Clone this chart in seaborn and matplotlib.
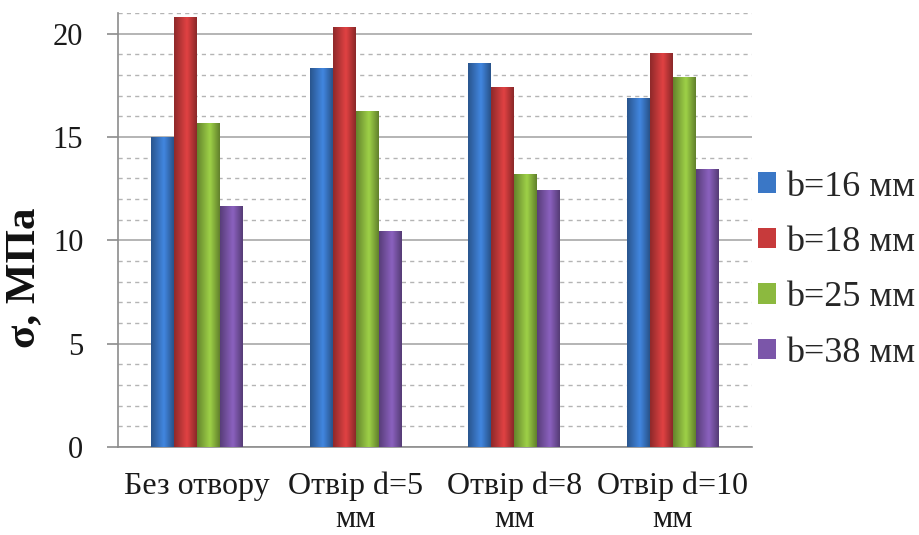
import numpy as np
import pandas as pd
import matplotlib
matplotlib.use("Agg")
import matplotlib.pyplot as plt
import matplotlib.colors as mcolors
from matplotlib.ticker import MultipleLocator
import seaborn as sns

categories = ["Без отвору", "Отвір d=5\nмм", "Отвір d=8\nмм", "Отвір d=10\nмм"]
series_names = ["b=16 мм", "b=18 мм", "b=25 мм", "b=38 мм"]
b16 = [15.0, 18.35, 18.6, 16.9]
b18 = [20.8, 20.3, 17.4, 19.05]
b25 = [15.7, 16.25, 13.2, 17.9]
b38 = [11.65, 10.45, 12.45, 13.45]
colors = ["#3A77C6", "#C73A3B", "#8CB93F", "#7B56A9"]

rows = []
for name, vals in zip(series_names, [b16, b18, b25, b38]):
    for cat, v in zip(categories, vals):
        rows.append({"cat": cat, "series": name, "value": v})
df = pd.DataFrame(rows)

sns.set_theme(style="white")
plt.rcParams["font.family"] = ["Liberation Serif", "DejaVu Serif"]

fig = plt.figure(figsize=(9.19, 5.35), dpi=100)
ax = fig.add_axes([0.1284, 0.1645, 0.8184 - 0.1284, 0.9757 - 0.1645])

sns.barplot(data=df, x="cat", y="value", hue="series", order=categories,
            hue_order=series_names, palette=colors, width=0.58, gap=0.0,
            saturation=1.0, edgecolor="none", linewidth=0, ax=ax, legend=True,
            zorder=3)

# subtle cylindrical shading on each bar
bars = [p for p in ax.patches if p.get_height() > 0]
shade = np.concatenate([np.linspace(0.72, 1.12, 18), np.linspace(1.12, 0.7, 14)])
for p in bars:
    x0, y0 = p.get_x(), p.get_y()
    w, h = p.get_width(), p.get_height()
    base = np.array(mcolors.to_rgb(p.get_facecolor()))
    img = np.clip(base[None, :] * shade[:, None], 0, 1)[None, :, :]
    im = ax.imshow(img, extent=[x0, x0 + w, y0, y0 + h], aspect="auto",
                   zorder=3.5, interpolation="bicubic")
    im.set_clip_path(p)

ax.set_xlim(-0.5, 3.5)
ax.set_ylim(0, 21)
ax.yaxis.set_major_locator(MultipleLocator(5))
ax.yaxis.set_minor_locator(MultipleLocator(1))
ax.grid(which="major", axis="y", color="#A8A8A8", linewidth=1.2, linestyle="-", zorder=0)
ax.grid(which="minor", axis="y", color="#B4B4B4", linewidth=1.0, linestyle=(0, (3, 3)), zorder=0)
ax.set_axisbelow(True)

for s in ["top", "right"]:
    ax.spines[s].set_visible(False)
for s in ["left", "bottom"]:
    ax.spines[s].set_color("#8C8C8C")
    ax.spines[s].set_linewidth(1.2)

ax.tick_params(axis="y", which="major", direction="out", length=8, width=1.2,
               color="#8C8C8C", labelsize=22, pad=17, left=True, labelcolor="#1a1a1a")
ax.tick_params(axis="y", which="minor", length=0)
ax.tick_params(axis="x", length=0, labelsize=23, pad=18, labelcolor="#1a1a1a")
for lab in ax.get_xticklabels():
    lab.set_linespacing(1.18)

ax.set_xlabel("")
ax.set_ylabel("σ, МПа", fontsize=31, fontweight="bold", color="#111111")
ax.yaxis.set_label_coords(-0.118, 0.39)

handles, labels = ax.get_legend_handles_labels()
leg = ax.legend(handles, labels, loc="center left", bbox_to_anchor=(0.825, 0.495),
                bbox_transform=fig.transFigure, frameon=False, fontsize=26,
                handlelength=0.5, handleheight=0.5, handletextpad=0.28,
                labelspacing=0.62, borderaxespad=0, borderpad=0)

fig.savefig("out.png", dpi=100)
